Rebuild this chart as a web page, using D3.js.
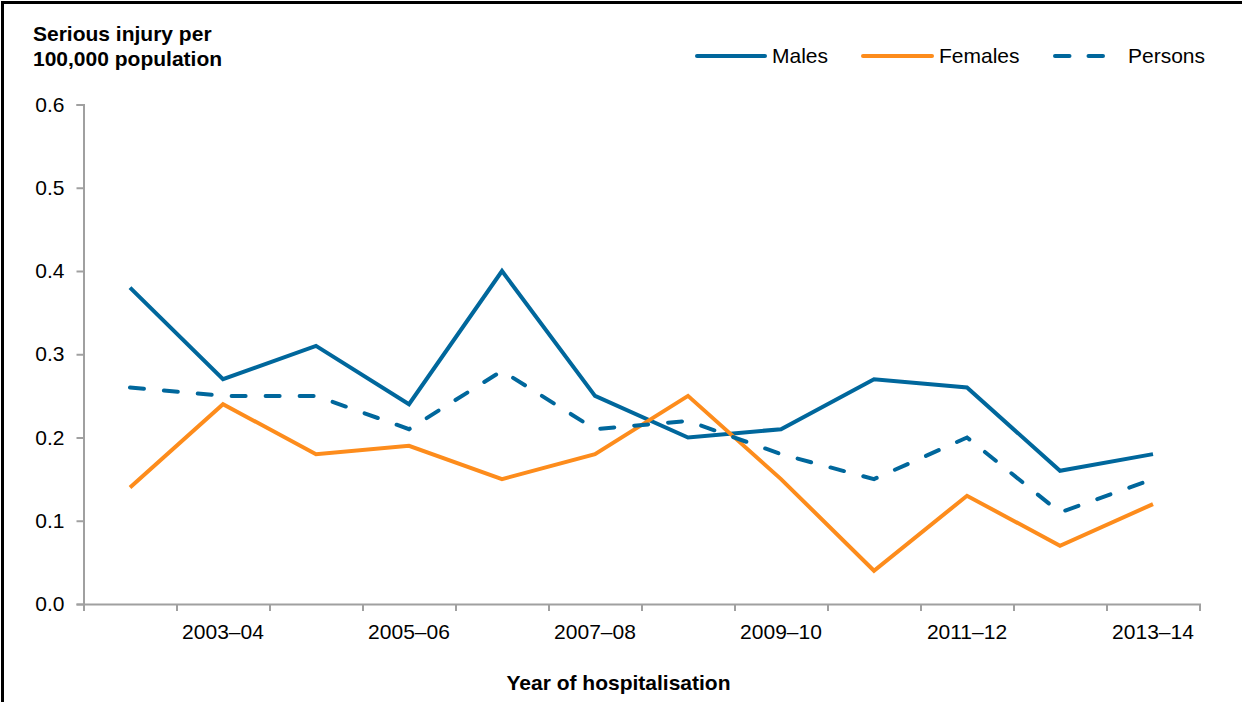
<!DOCTYPE html>
<html><head><meta charset="utf-8">
<script src="https://cdn.jsdelivr.net/npm/d3@7"></script>
<style>
html,body{margin:0;padding:0;background:#fff;}
svg{display:block;font-family:"Liberation Sans",Arial,sans-serif;}
</style></head>
<body>
<svg id="chart" width="1242" height="702"></svg>
<script>
const years = ["2002–03","2003–04","2004–05","2005–06","2006–07","2007–08","2008–09","2009–10","2010–11","2011–12","2012–13","2013–14"];
const males   = [0.38,0.27,0.31,0.24,0.40,0.25,0.20,0.21,0.27,0.26,0.16,0.18];
const females = [0.14,0.24,0.18,0.19,0.15,0.18,0.25,0.15,0.04,0.13,0.07,0.12];
const persons = [0.26,0.25,0.25,0.21,0.28,0.21,0.22,0.18,0.15,0.20,0.11,0.15];
const yTicks = [0,0.1,0.2,0.3,0.4,0.5,0.6];
const xLabelYears = ["2003–04","2005–06","2007–08","2009–10","2011–12","2013–14"];

const seriesList = [
  {name:"Males", values:males, color:"#00679c", dash:null},
  {name:"Females", values:females, color:"#fd8c1c", dash:null},
  {name:"Persons", values:persons, color:"#00679c", dash:"14,20"}
];

(function(){
const svg = d3.select("#chart");
const W=1242,H=702;
const mLeft=83.5,mRight=1199.5,mTop=104.5,mBottom=604;
const FS = 21;

// border (left and top)
svg.append("path").attr("d",`M2.5,${H} L2.5,2.5 L${W},2.5`).attr("fill","none").attr("stroke","#000").attr("stroke-width",3);

const x = d3.scaleBand().domain(years).range([mLeft,mRight]);
const y = d3.scaleLinear().domain([0,0.6]).range([mBottom,mTop]);

const axisColor="#a0a0a0";
const yAxis = d3.axisLeft(y).tickValues(yTicks).tickFormat(d3.format(".1f")).tickSize(7).tickPadding(12);
const gy = svg.append("g").attr("transform",`translate(${mLeft},0)`).call(yAxis);
gy.select(".domain").attr("stroke",axisColor).attr("stroke-width",2);
gy.selectAll(".tick line").attr("stroke",axisColor).attr("stroke-width",2);
gy.selectAll(".tick text").attr("font-size",FS).attr("fill","#000").attr("font-family","Liberation Sans, Arial, sans-serif");

const xl = d3.scaleLinear().domain([0,years.length]).range([mLeft,mRight]);
const xAxis = d3.axisBottom(xl).tickValues(d3.range(0,years.length+1)).tickSize(7).tickFormat("");
const gx = svg.append("g").attr("transform",`translate(0,${mBottom})`).call(xAxis);
gx.select(".domain").attr("stroke",axisColor).attr("stroke-width",2);
gx.selectAll(".tick line").attr("stroke",axisColor).attr("stroke-width",2);

svg.append("g").selectAll("text").data(xLabelYears).join("text")
  .attr("x",d=>x(d)+x.bandwidth()/2).attr("y",639)
  .attr("text-anchor","middle").attr("font-size",FS).attr("fill","#000").text(d=>d);

const line = d3.line().x((d,i)=>x(years[i])+x.bandwidth()/2).y(d=>y(d));
seriesList.forEach(s=>{
  svg.append("path").datum(s.values).attr("d",line).attr("fill","none")
    .attr("stroke",s.color).attr("stroke-width",4).attr("stroke-linejoin","miter")
    .attr("stroke-dasharray",s.dash).attr("stroke-linecap",s.dash?"round":"butt");
});

const t = svg.append("text").attr("font-size",FS).attr("font-weight","bold").attr("fill","#000");
t.append("tspan").attr("x",33).attr("y",41).text("Serious injury per");
t.append("tspan").attr("x",33).attr("y",66).text("100,000 population");
svg.append("text").attr("x",618.5).attr("y",690).attr("text-anchor","middle")
  .attr("font-size",FS).attr("font-weight","bold").attr("fill","#000").text("Year of hospitalisation");

const legendPos = [{x1:697,x2:765,tx:772},{x1:863,x2:932,tx:939},{x1:1055,x2:1106,tx:1128}];
seriesList.forEach((s,i)=>{
  const p=legendPos[i];
  svg.append("line").attr("x1",p.x1).attr("x2",p.x2).attr("y1",56).attr("y2",56)
    .attr("stroke",s.color).attr("stroke-width",4).attr("stroke-linecap","round")
    .attr("stroke-dasharray",s.dash?"14.5,19":null);
  svg.append("text").attr("x",p.tx).attr("y",63).attr("font-size",FS).attr("fill","#000").text(s.name);
});
})();
</script>
</body></html>
